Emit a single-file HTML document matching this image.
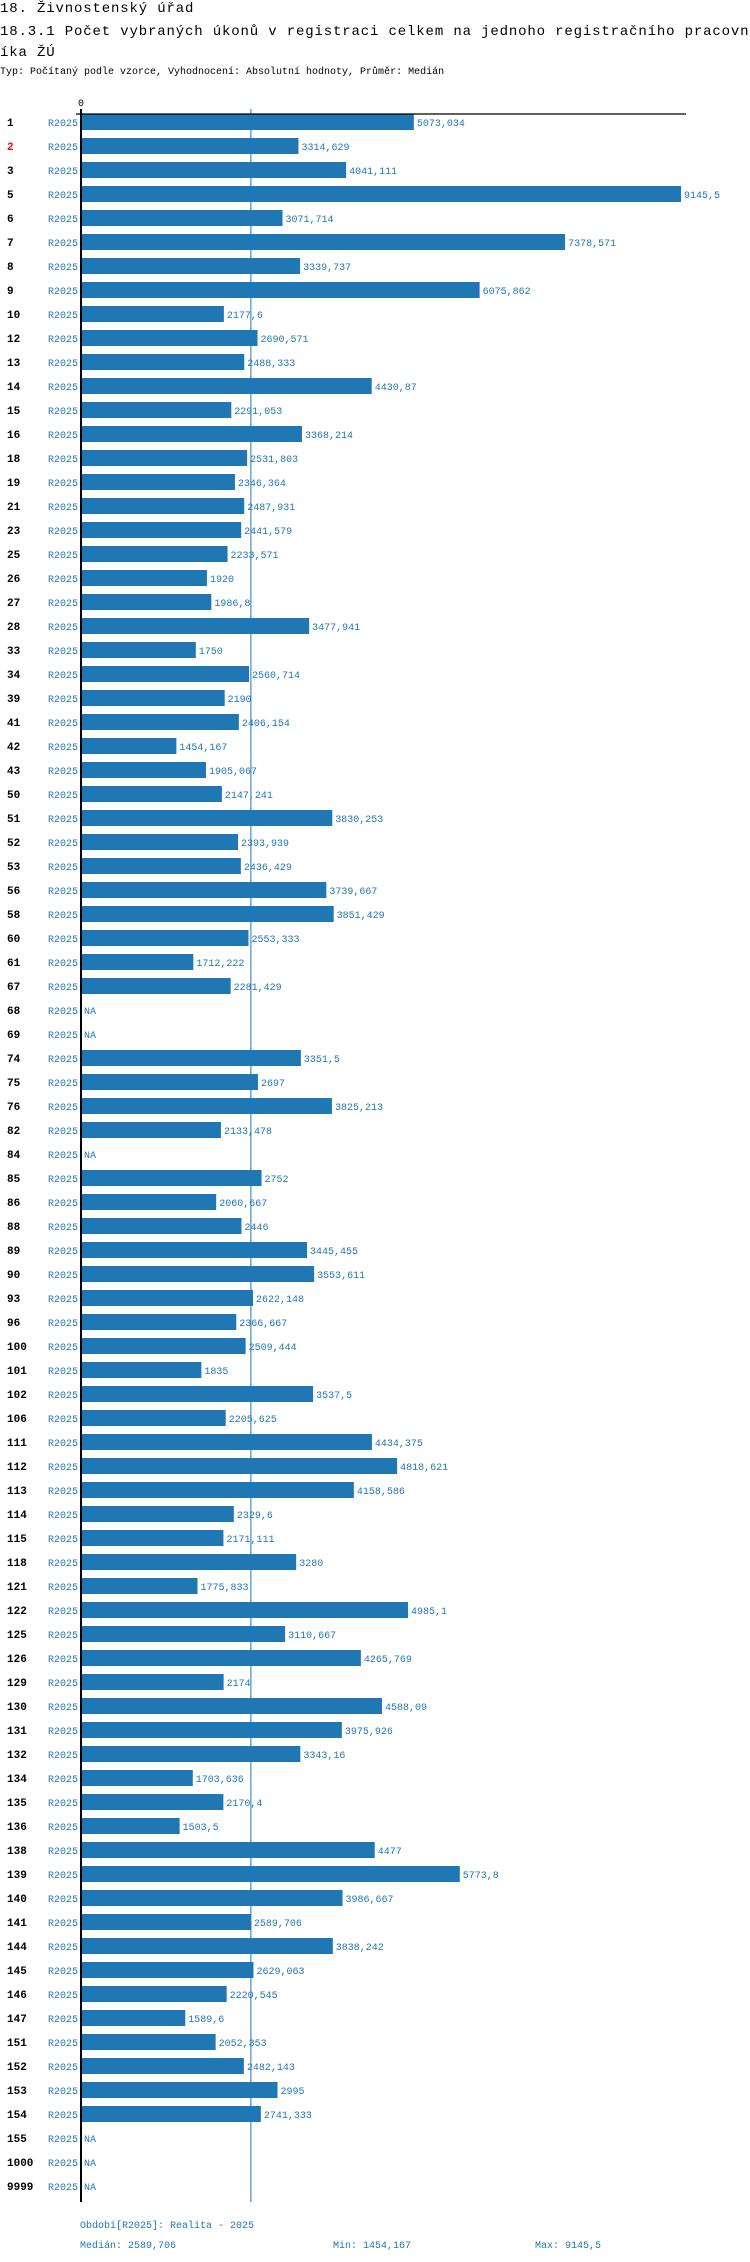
<!DOCTYPE html>
<html><head><meta charset="utf-8"><style>
html,body{margin:0;padding:0;background:#fff;}
body{width:750px;height:2262px;overflow:hidden;position:relative;font-family:"Liberation Mono",monospace;}
.t{position:absolute;left:0;white-space:nowrap;color:#000;}
</style></head><body>
<div class="t" style="top:0;font-size:14px;letter-spacing:0.85px;line-height:18px">18. Živnostenský úřad</div>
<div class="t" style="top:22px;font-size:14px;letter-spacing:0.85px;line-height:21px">18.3.1 Počet vybraných úkonů v registraci celkem na jednoho registračního pracovn<br>íka ŽÚ</div>
<div class="t" style="top:66px;font-size:10px;line-height:14px">Typ: Počítaný podle vzorce, Vyhodnocení: Absolutní hodnoty, Průměr: Medián</div>
<svg id="chart" width="750" height="2262" style="position:absolute;left:0;top:0" xmlns="http://www.w3.org/2000/svg"></svg>
<script>
const categories=["1","2","3","5","6","7","8","9","10","12","13","14","15","16","18","19","21","23","25","26","27","28","33","34","39","41","42","43","50","51","52","53","56","58","60","61","67","68","69","74","75","76","82","84","85","86","88","89","90","93","96","100","101","102","106","111","112","113","114","115","118","121","122","125","126","129","130","131","132","134","135","136","138","139","140","141","144","145","146","147","151","152","153","154","155","1000","9999"];
const values=[5073.034,3314.629,4041.111,9145.5,3071.714,7378.571,3339.737,6075.862,2177.6,2690.571,2488.333,4430.87,2291.053,3368.214,2531.803,2346.364,2487.931,2441.579,2233.571,1920,1986.8,3477.941,1750,2560.714,2190,2406.154,1454.167,1905.067,2147.241,3830.253,2393.939,2436.429,3739.667,3851.429,2553.333,1712.222,2281.429,null,null,3351.5,2697,3825.213,2133.478,null,2752,2060.667,2446,3445.455,3553.611,2622.148,2366.667,2509.444,1835,3537.5,2205.625,4434.375,4818.621,4158.586,2329.6,2171.111,3280,1775.833,4985.1,3110.667,4265.769,2174,4588.09,3975.926,3343.16,1703.636,2170.4,1503.5,4477,5773.8,3986.667,2589.706,3838.242,2629.063,2220.545,1589.6,2052.353,2482.143,2995,2741.333,null,null,null];
const highlighted=["2"];
const periodLabel="R2025";
const median=2589.706, minV=1454.167, maxV=9145.5;
const NS="http://www.w3.org/2000/svg";
const svg=document.getElementById('chart');
const X0=81, X1=681, TOP=114, PITCH=24, BH=16;
const xs=v=>X0+v*(X1-X0)/maxV;
const ys=i=>TOP+i*PITCH;
const fmt=v=>String(v).replace('.',',');
function mk(tag,attrs,txt){const e=document.createElementNS(NS,tag);for(const k in attrs)e.setAttribute(k,attrs[k]);if(txt!==undefined)e.textContent=txt;svg.appendChild(e);return e;}
categories.forEach((c,i)=>{
  const y=ys(i);
  const lab=mk('text',{x:7,y:y+12,'font-size':11,'font-weight':'bold','font-family':'Liberation Mono, monospace',fill:highlighted.includes(c)?'#ff0000':'#000'},c);
  
  
  const p=mk('text',{x:78,y:y+12,'font-size':10,'text-anchor':'end','font-family':'Liberation Mono, monospace',fill:'#1f77b4'},periodLabel);
  
  
  const v=values[i];
  if(v!==null){
    const r=mk('rect',{x:X0,y:y,width:xs(v)-X0,height:BH,fill:'#1f77b4'});
    
    
  }
  const t=mk('text',{x:(v!==null?xs(v):X0)+3,y:y+12,'font-size':10,'font-family':'Liberation Mono, monospace',fill:'#1f77b4'},v!==null?fmt(v):'NA');
  
  
});
const ml=mk('line',{x1:xs(median),x2:xs(median),y1:109,y2:2202,stroke:'#1f77b4','stroke-width':1});


const ax=mk('line',{x1:76,x2:686,y1:114,y2:114,stroke:'#000','stroke-width':1.3});


const ay=mk('line',{x1:X0,x2:X0,y1:109,y2:2202,stroke:'#000','stroke-width':2});


const z=mk('text',{x:X0,y:106,'font-size':10,'text-anchor':'middle','font-family':'Liberation Mono, monospace',fill:'#000'},'0');


const f1=mk('text',{x:80,y:2228,'font-size':10,'font-family':'Liberation Mono, monospace',fill:'#1f77b4'},'Období['+periodLabel+']: Realita - 2025');


const f2=mk('text',{x:80,y:2248,'font-size':10,'font-family':'Liberation Mono, monospace',fill:'#1f77b4'},'Medián: '+fmt(median));


const f3=mk('text',{x:333,y:2248,'font-size':10,'font-family':'Liberation Mono, monospace',fill:'#1f77b4'},'Min: '+fmt(minV));


const f4=mk('text',{x:535,y:2248,'font-size':10,'font-family':'Liberation Mono, monospace',fill:'#1f77b4'},'Max: '+fmt(maxV));


</script>
</body></html>
